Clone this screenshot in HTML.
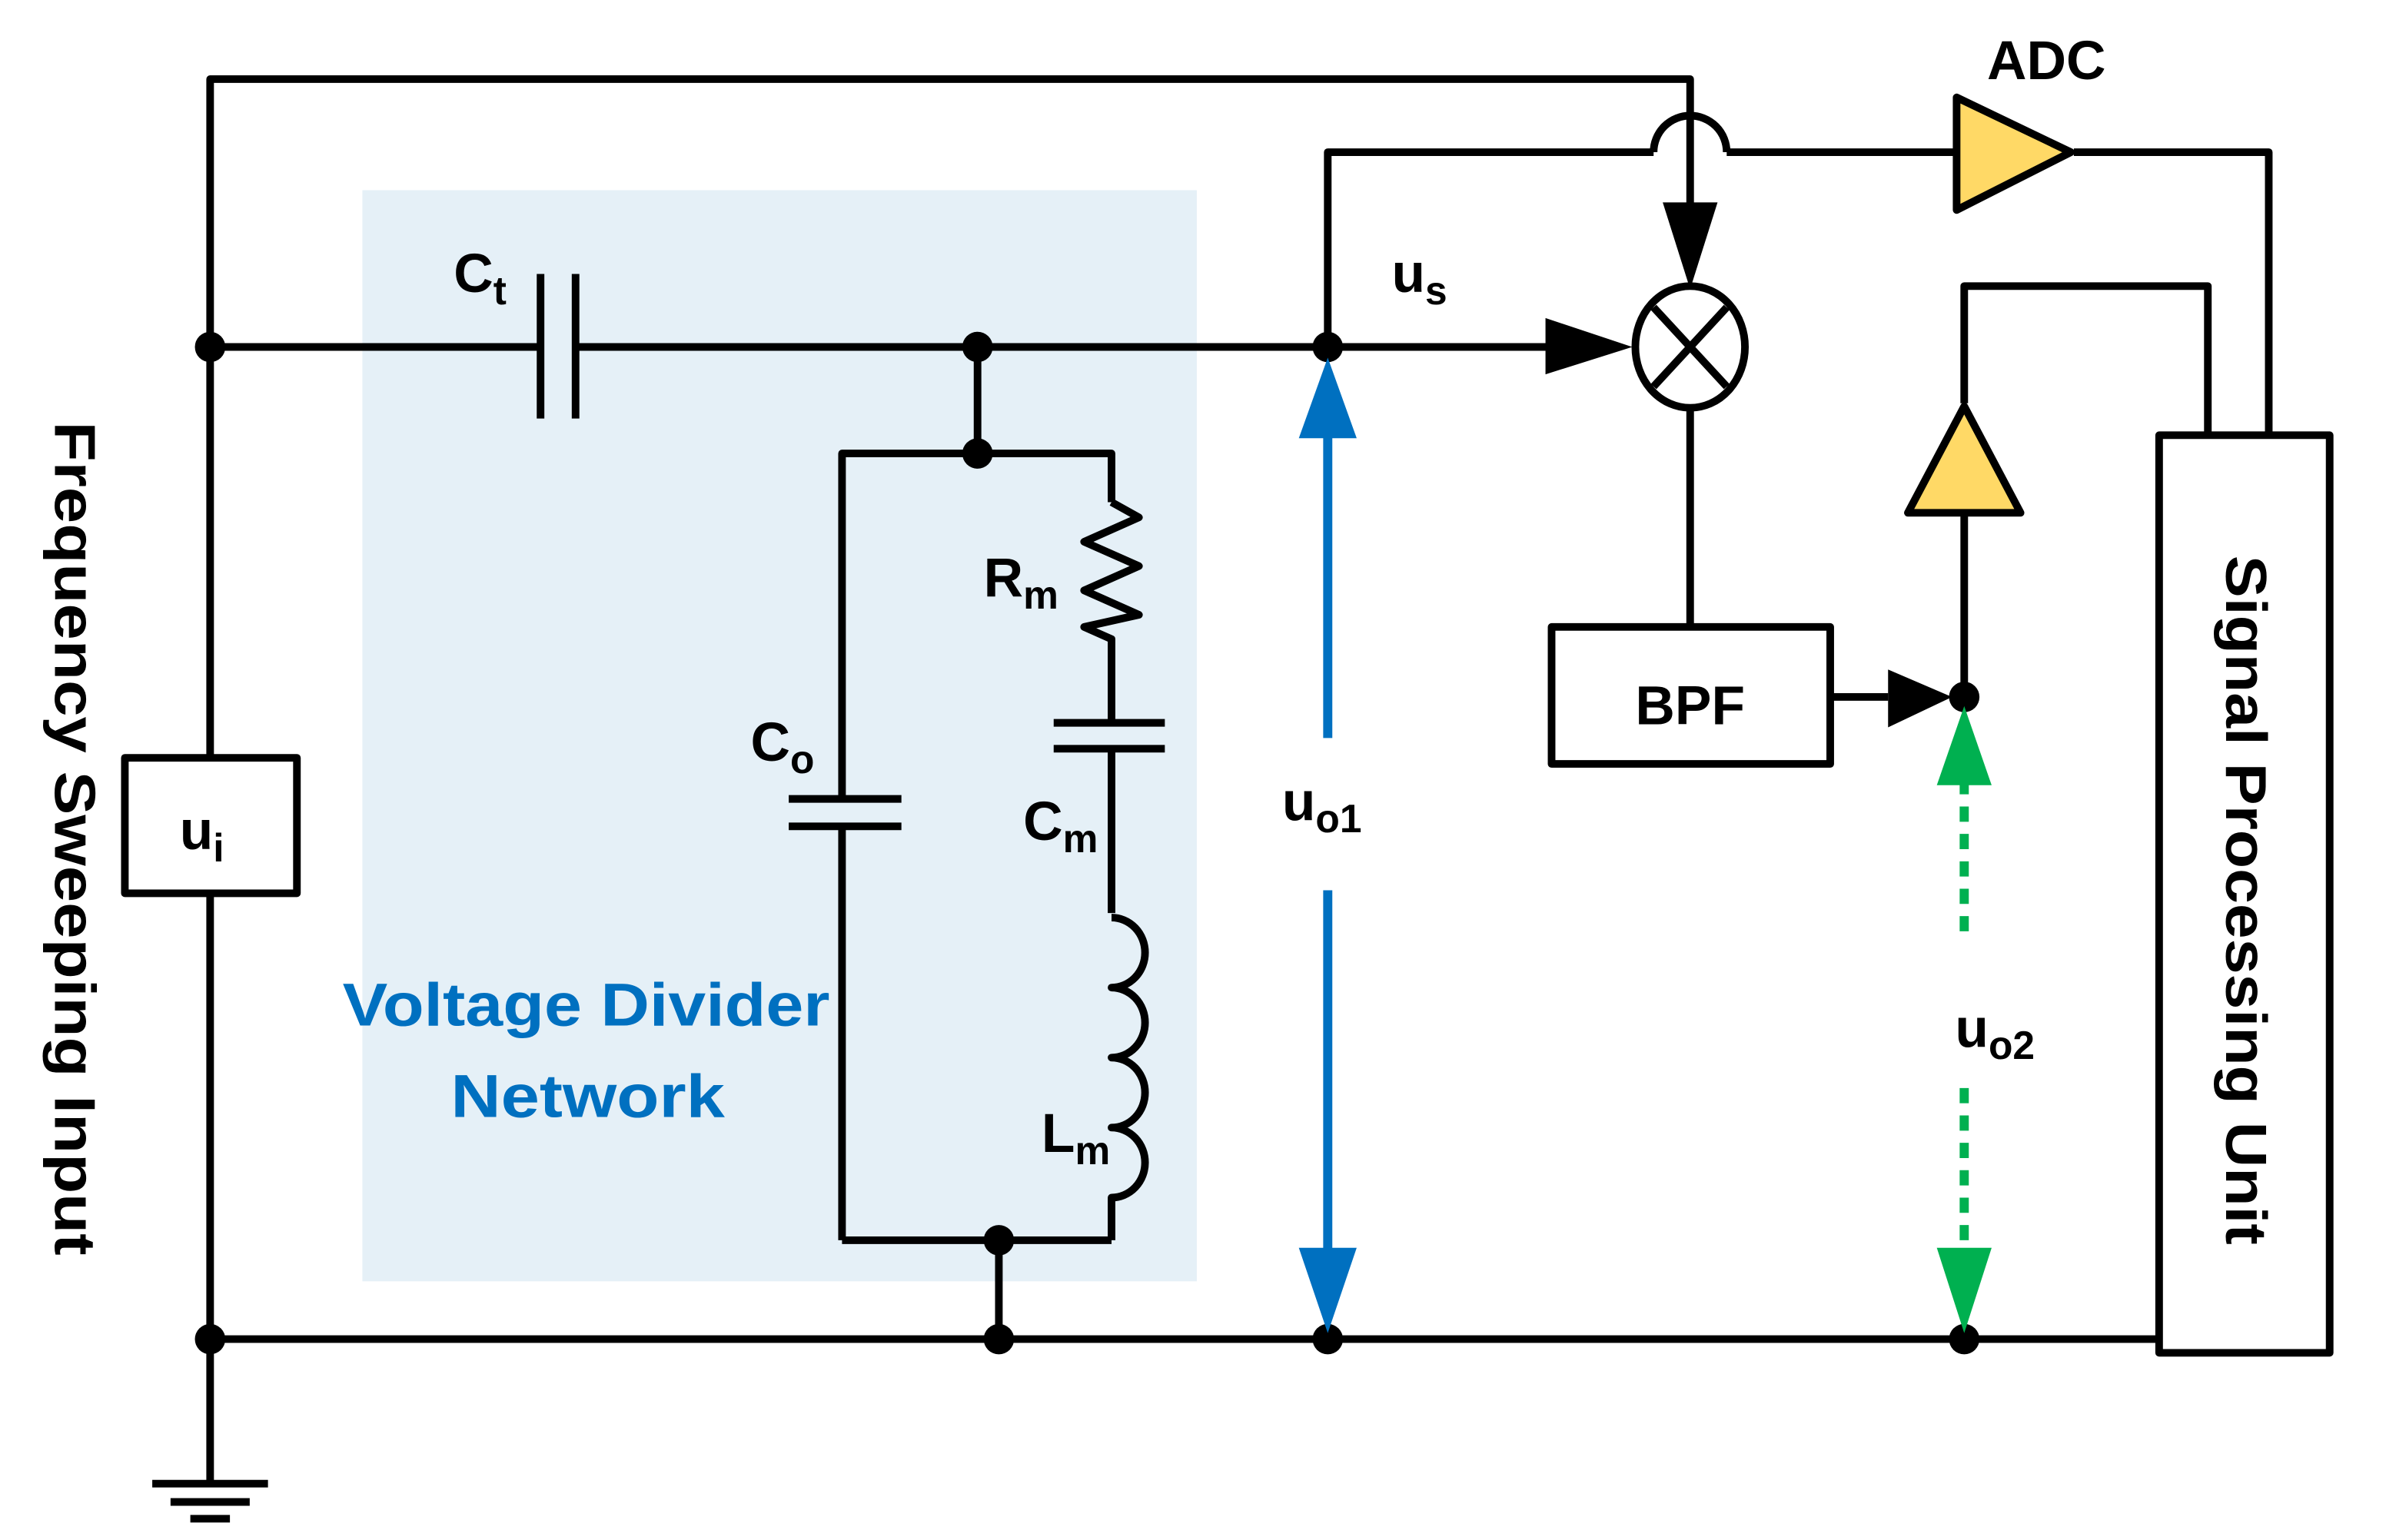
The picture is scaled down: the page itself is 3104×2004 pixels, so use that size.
<!DOCTYPE html>
<html><head><meta charset="utf-8"><style>
html,body{margin:0;padding:0;background:#fff;}
svg{display:block}
text{font-family:"Liberation Sans",sans-serif;font-weight:bold;}
</style></head><body>
<svg width="3104" height="2004" viewBox="0 0 1567 1012" preserveAspectRatio="none" xmlns="http://www.w3.org/2000/svg">
<rect x="238" y="125" width="548" height="717" fill="#e5f0f7"/>
<g stroke="#000" stroke-width="5" fill="none" stroke-linejoin="round">
<polyline points="138,975 138,52 1110,52 1110,140"/>
<line x1="138" y1="228" x2="355" y2="228"/>
<line x1="378" y1="228" x2="1025" y2="228"/>
<line x1="355" y1="180" x2="355" y2="275"/>
<line x1="378" y1="180" x2="378" y2="275"/>
<line x1="642" y1="228" x2="642" y2="298"/>
<polyline points="730,330 730,298 553,298 553,525"/>
<line x1="553" y1="543" x2="553" y2="815"/>
<line x1="518" y1="525" x2="592" y2="525"/>
<line x1="518" y1="543" x2="592" y2="543"/>
<polyline points="730,330 748,340 712,356 748,372 712,388 748,404 712,412 730,420 730,475"/>
<line x1="692" y1="475" x2="765" y2="475"/>
<line x1="692" y1="492" x2="765" y2="492"/>
<polyline points="730,492 730,600"/>
<path d="M730,603 a22,23 0 0 1 0,46 a22,23 0 0 1 0,46 a22,23 0 0 1 0,46 a22,23 0 0 1 0,46 L730,815"/>
<polyline points="553,815 730,815"/>
<line x1="656" y1="815" x2="656" y2="880"/>
<line x1="138" y1="880" x2="1418" y2="880"/>
<line x1="100" y1="975" x2="176" y2="975"/>
<line x1="112" y1="987" x2="164" y2="987"/>
<line x1="125" y1="998" x2="151" y2="998"/>
<polyline points="872,228 872,100 1086,100"/>
<path d="M1086,100 a24,24 0 0 1 48,0"/>
<line x1="1134" y1="100" x2="1285" y2="100"/>
<polyline points="1362,100 1490,100 1490,285"/>
<ellipse cx="1110" cy="228" rx="36" ry="40"/>
<line x1="1086" y1="202" x2="1134" y2="254"/>
<line x1="1134" y1="202" x2="1086" y2="254"/>
<line x1="1110" y1="268" x2="1110" y2="410"/>
<rect x="1019" y="412" width="183" height="90"/>
<line x1="1202" y1="458" x2="1240" y2="458"/>
<line x1="1290" y1="458" x2="1290" y2="338"/>
<polyline points="1290,265 1290,188 1450,188 1450,285"/>
<rect x="1418" y="286" width="112" height="603"/>
<rect x="82" y="498" width="113" height="89" fill="#fff"/>
</g>
<polygon points="1285,64 1285,138 1360,100" fill="#ffd966" stroke="#000" stroke-width="5" stroke-linejoin="round"/>
<polygon points="1290,267 1253,337 1327,337" fill="#ffd966" stroke="#000" stroke-width="5" stroke-linejoin="round"/>
<polygon points="1092,133 1128,133 1110,190" fill="#000"/>
<polygon points="1015,209 1015,246 1072,228" fill="#000"/>
<polygon points="1240,440 1240,478 1282,458" fill="#000"/>
<g fill="#000">
<circle cx="138" cy="228" r="10"/><circle cx="642" cy="228" r="10"/><circle cx="642" cy="298" r="10"/>
<circle cx="872" cy="228" r="10"/><circle cx="656" cy="815" r="10"/><circle cx="138" cy="880" r="10"/>
<circle cx="656" cy="880" r="10"/><circle cx="872" cy="880" r="10"/><circle cx="1290" cy="880" r="10"/>
<circle cx="1290" cy="458" r="10"/>
</g>
<g stroke="#0070c0" stroke-width="6"><line x1="872" y1="280" x2="872" y2="485"/><line x1="872" y1="585" x2="872" y2="825"/></g>
<polygon points="872,235 853,288 891,288" fill="#0070c0"/>
<polygon points="872,876 853,820 891,820" fill="#0070c0"/>
<g stroke="#00b050" stroke-width="6" stroke-dasharray="10,8"><line x1="1290" y1="512" x2="1290" y2="615"/><line x1="1290" y1="715" x2="1290" y2="825"/></g>
<polygon points="1290,464 1272,516 1308,516" fill="#00b050"/>
<polygon points="1290,876 1272,820 1308,820" fill="#00b050"/>
<g font-size="36" fill="#000">
<text x="298" y="192">C<tspan font-size="26" dy="8">t</tspan></text>
<text x="914" y="192">u<tspan font-size="26" dy="8">s</tspan></text>
<text x="1305" y="52">ADC</text>
<text x="646" y="392">R<tspan font-size="26" dy="8">m</tspan></text>
<text x="493" y="500">C<tspan font-size="26" dy="8">o</tspan></text>
<text x="672" y="552">C<tspan font-size="26" dy="8">m</tspan></text>
<text x="684" y="757">L<tspan font-size="26" dy="8">m</tspan></text>
<text x="842" y="539">u<tspan font-size="26" dy="8">o1</tspan></text>
<text x="1284" y="688">u<tspan font-size="26" dy="8">o2</tspan></text>
<text x="118" y="558">u<tspan font-size="26" dy="8">i</tspan></text>
<text x="1074" y="476">BPF</text>
<text transform="translate(36,277) rotate(90)" font-size="38" textLength="548" lengthAdjust="spacingAndGlyphs">Frequency Sweeping Input</text>
<text transform="translate(1462,365) rotate(90)" font-size="38" textLength="453" lengthAdjust="spacingAndGlyphs">Signal Processing Unit</text>
</g>
<g font-size="40" fill="#0070c0">
<text x="225" y="674" textLength="320" lengthAdjust="spacingAndGlyphs">Voltage Divider</text>
<text x="296" y="734" textLength="180" lengthAdjust="spacingAndGlyphs">Network</text>
</g>
</svg>
</body></html>
